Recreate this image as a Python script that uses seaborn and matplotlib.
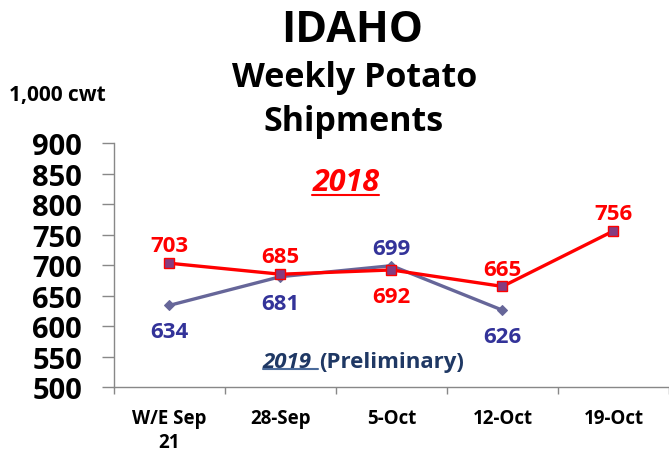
import numpy as np
import pandas as pd
import matplotlib.pyplot as plt
import seaborn as sns

weeks = ["W/E Sep\n21", "28-Sep", "5-Oct", "12-Oct", "19-Oct"]
ship_2018 = [703, 685, 692, 665, 756]
ship_2019 = [634, 681, 699, 626]
# label above (+1) or below (-1) the point
pos_2018 = [1, 1, -1, 1, 1]
pos_2019 = [-1, -1, 1, -1]

sns.set_style('white')
plt.rcParams['font.family'] = ['Open Sans', 'DejaVu Sans']
plt.rcParams['font.weight'] = 'bold'
plt.rcParams['text.color'] = 'black'
plt.rcParams['xtick.color'] = 'black'
plt.rcParams['ytick.color'] = 'black'
plt.rcParams['ytick.left'] = True
plt.rcParams['xtick.bottom'] = True

red = '#ff0000'
slate = '#666699'
navy = '#333399'
dark = '#1f3864'

df18 = pd.DataFrame({'x': np.arange(len(ship_2018)), 'y': ship_2018})
df19 = pd.DataFrame({'x': np.arange(len(ship_2019)), 'y': ship_2019})

fig = plt.figure(figsize=(6.69, 4.56), dpi=100)
ax = fig.add_axes([0.1704, 0.149, 0.8296, 0.535])

sns.lineplot(data=df19, x='x', y='y', color=slate, linewidth=2.4, marker='D',
             markersize=5, markeredgecolor=slate, ax=ax, zorder=2)
sns.lineplot(data=df18, x='x', y='y', color=red, linewidth=2.4, marker='s',
             markersize=7, markerfacecolor='#863c80', markeredgecolor=red,
             markeredgewidth=1, ax=ax, zorder=3)

def label(vals, pos, color):
    for i, (v, p) in enumerate(zip(vals, pos)):
        off = 8.5 if p > 0 else -23
        ax.annotate(str(v), (i, v), xytext=(0, off), textcoords='offset points',
                    ha='center', va='baseline', color=color, fontsize=16,
                    fontweight='bold')

label(ship_2018, pos_2018, red)
label(ship_2019, pos_2019, navy)

ax.set_xlim(-0.5, len(weeks) - 0.5)
ax.set_ylim(500, 900)
ax.set_yticks(np.arange(500, 901, 50))
ax.set_xticks(np.arange(len(weeks)))
ax.set_xticklabels(weeks, fontsize=13.5, fontweight='bold', linespacing=1.3)
ax.set_xticks(np.arange(len(weeks) + 1) - 0.5, minor=True)
ax.tick_params(axis='x', which='major', length=0, pad=15)
ax.tick_params(axis='x', which='minor', bottom=True, length=5, color='#888888',
               width=1, direction='out')
ax.tick_params(axis='y', which='major', left=True, length=9, color='#888888',
               width=1, direction='out', labelsize=21, pad=14)
for lab in ax.get_yticklabels():
    lab.set_fontweight('bold')
ax.set_xlabel('')
ax.set_ylabel('')
for s in ['top', 'right']:
    ax.spines[s].set_visible(False)
for s in ['left', 'bottom']:
    ax.spines[s].set_color('#888888')
    ax.spines[s].set_linewidth(1)

fig.text(0.527, 0.908, 'IDAHO', ha='center', va='baseline', fontsize=31, fontweight='bold')
fig.text(0.53, 0.809, 'Weekly Potato', ha='center', va='baseline', fontsize=24.5, fontweight='bold')
fig.text(0.528, 0.713, 'Shipments', ha='center', va='baseline', fontsize=24.5, fontweight='bold')
fig.text(0.013, 0.778, '1,000 cwt', ha='left', va='baseline', fontsize=15, fontweight='bold')

t18 = fig.text(0.517, 0.598, '2018', ha='center', va='center', fontsize=22,
               fontweight='bold', fontstyle='italic', color=red)
t19 = fig.text(0.393, 0.206, '2019 ', ha='left', va='center', fontsize=16,
               fontweight='bold', fontstyle='italic', color=dark)

# underline the year labels, put "(Preliminary)" right after 2019
fig.canvas.draw()
inv = fig.transFigure.inverted()
for t, c in [(t18, red), (t19, '#4a6a9a')]:
    bb = t.get_window_extent()
    (x0, y0), (x1, y1) = inv.transform([[bb.x0, bb.y0], [bb.x1, bb.y1]])
    fig.add_artist(plt.Line2D([x0, x1], [y0 + 0.006, y0 + 0.006],
                              color=c, linewidth=1.5, transform=fig.transFigure))
fig.text(x1 + 0.002, 0.206, '(Preliminary)', ha='left', va='center', fontsize=16,
         fontweight='bold', color=dark)

plt.savefig('out.png', dpi=100)
